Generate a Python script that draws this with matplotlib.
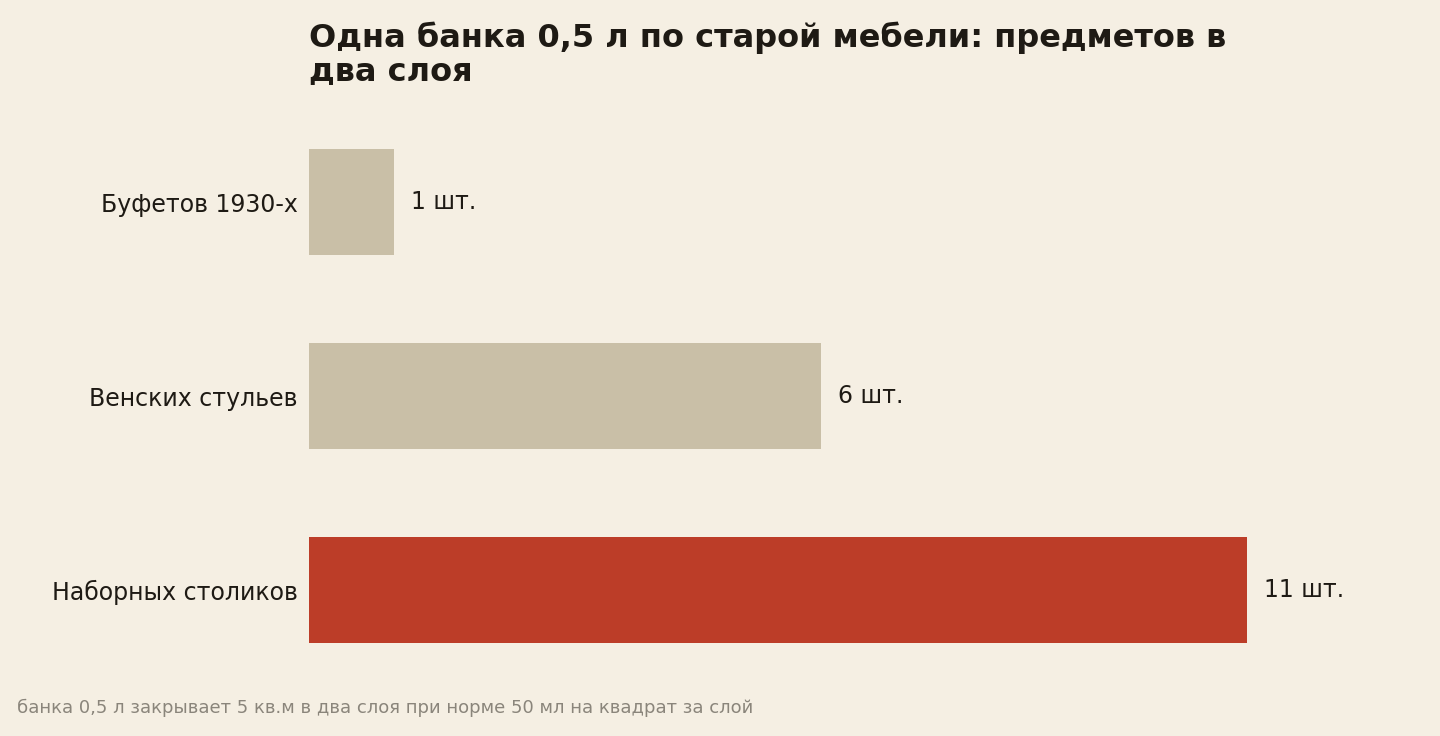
import matplotlib
matplotlib.use("Agg")
import matplotlib.pyplot as plt

categories = ["Буфетов 1930-х", "Венских стульев", "Наборных столиков"]
values = [1, 6, 11]
labels = ["1 шт.", "6 шт.", "11 шт."]
colors = ["#C9BFA7", "#C9BFA7", "#BC3D28"]

W, H = 1440, 736
bg = "#F5EFE3"
fig = plt.figure(figsize=(W/100, H/100), dpi=100, facecolor=bg)
ax = fig.add_axes([309/W, 1-687/H, (1247-309)/W, (687-105)/H], facecolor=bg)
y = list(range(len(categories)))
ax.barh(y, values, height=0.55, color=colors)
ax.set_xlim(0, 11)
ax.set_ylim(2.5, -0.5)
for yi, v, l in zip(y, values, labels):
    ax.text(v + 0.2, yi, l, va="center", ha="left", fontsize=17, color="#1E1A14", clip_on=False)
ax.set_yticks(y)
ax.set_yticklabels(categories, fontsize=17, color="#1E1A14")
ax.tick_params(axis="y", length=0, pad=8)
ax.set_xticks([])
for s in ax.spines.values():
    s.set_visible(False)
fig.text(309/W, 1-22/H, "Одна банка 0,5 л по старой мебели: предметов в\nдва слоя",
         ha="left", va="top", fontsize=23, fontweight="bold", color="#1E1A14", linespacing=1.05)
fig.text(17/W, 1-708/H, "банка 0,5 л закрывает 5 кв.м в два слоя при норме 50 мл на квадрат за слой",
         ha="left", va="center", fontsize=13, color="#8A857B")
fig.savefig("out.png", dpi=100, facecolor=bg)
